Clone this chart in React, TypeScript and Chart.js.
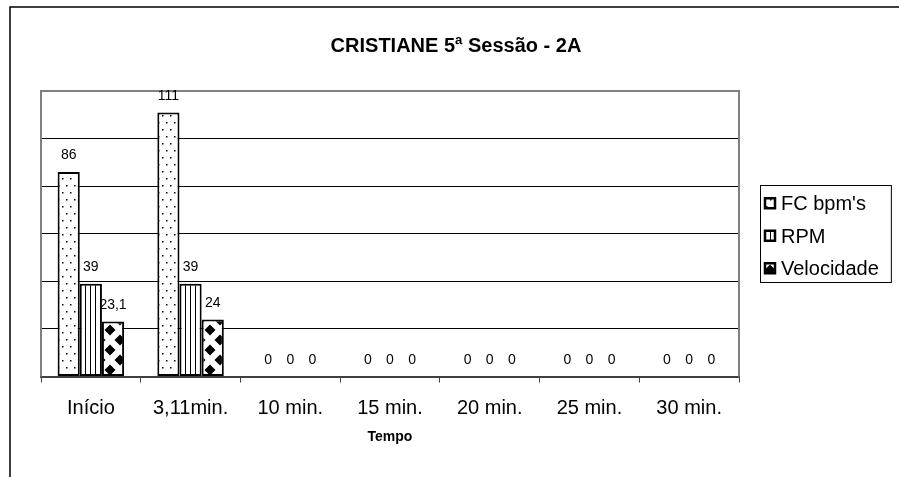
import React, { useEffect, useRef } from 'react';
import { Chart, registerables } from 'chart.js';

Chart.register(...registerables);

const categories = ['Início', '3,11min.', '10 min.', '15 min.', '20 min.', '25 min.', '30 min.'];
const fcValues = [86, 111, 0, 0, 0, 0, 0];
const rpmValues = [39, 39, 0, 0, 0, 0, 0];
const velValues = [23.1, 24, 0, 0, 0, 0, 0];
const seriesLabels = ["FC bpm's", 'RPM', 'Velocidade'];
const yMin = 0;
const yMax = 120;
const yStep = 20;
const titleText = 'CRISTIANE 5ª Sessão - 2A';
const axisTitleText = 'Tempo';

const FONT = 'Arial, "Liberation Sans", sans-serif';

function makePattern(kind: string): CanvasPattern | string {
  const c = document.createElement('canvas');
  if (kind === 'dots') {
    c.width = 8; c.height = 14;
  } else if (kind === 'stripes') {
    c.width = 5; c.height = 5;
  } else {
    c.width = 20; c.height = 20;
  }
  const g = c.getContext('2d');
  if (!g) return '#fff';
  g.fillStyle = '#fff';
  g.fillRect(0, 0, c.width, c.height);
  g.fillStyle = '#000';
  if (kind === 'dots') {
    g.fillRect(2, 3, 1.5, 1.5);
    g.fillRect(6, 10, 1.5, 1.5);
  } else if (kind === 'stripes') {
    g.fillRect(0, 0, 1, 5);
  } else {
    const diamond = (cx: number, cy: number, r: number) => {
      g.beginPath();
      g.moveTo(cx, cy - r);
      g.lineTo(cx + r, cy);
      g.lineTo(cx, cy + r);
      g.lineTo(cx - r, cy);
      g.closePath();
      g.fill();
    };
    const r = 5.5;
    diamond(10, 10, r);
    diamond(0, 0, r);
    diamond(20, 0, r);
    diamond(0, 20, r);
    diamond(20, 20, r);
  }
  return g.createPattern(c, 'repeat') || '#fff';
}

const outerFrame = {
  id: 'outerFrame',
  beforeDraw(chart: any) {
    const ctx = chart.ctx;
    ctx.save();
    ctx.fillStyle = '#fff';
    ctx.fillRect(0, 0, chart.width, chart.height);
    ctx.strokeStyle = '#000';
    ctx.lineWidth = 1.5;
    ctx.beginPath();
    ctx.moveTo(chart.width, 7);
    ctx.lineTo(10, 7);
    ctx.lineTo(10, chart.height);
    ctx.stroke();
    // chart title, centred over the whole frame
    ctx.fillStyle = '#000';
    ctx.font = 'bold 20px ' + FONT;
    ctx.textAlign = 'center';
    ctx.textBaseline = 'alphabetic';
    ctx.fillText(titleText, 456, 52.2);
    ctx.restore();
  },
};

const plotBox = {
  id: 'plotBox',
  beforeDatasetsDraw(chart: any) {
    const { ctx, chartArea } = chart;
    ctx.save();
    ctx.strokeStyle = '#808080';
    ctx.lineWidth = 2;
    ctx.beginPath();
    ctx.moveTo(chartArea.left, chartArea.bottom);
    ctx.lineTo(chartArea.left, chartArea.top);
    ctx.lineTo(chartArea.right, chartArea.top);
    ctx.lineTo(chartArea.right, chartArea.bottom);
    ctx.stroke();
    ctx.restore();
  },
};

const valueLabels = {
  id: 'valueLabels',
  afterDatasetsDraw(chart: any) {
    const ctx = chart.ctx;
    ctx.save();
    ctx.font = '14px ' + FONT;
    ctx.fillStyle = '#000';
    ctx.textAlign = 'center';
    ctx.textBaseline = 'alphabetic';
    chart.data.datasets.forEach((ds: any, i: number) => {
      const meta = chart.getDatasetMeta(i);
      meta.data.forEach((bar: any, j: number) => {
        const v = ds.data[j];
        ctx.fillText(String(v).replace('.', ','), bar.x, bar.y - 12.5);
      });
    });
    ctx.restore();
  },
};

const boxLegend = {
  id: 'boxLegend',
  afterDraw(chart: any) {
    const { ctx, chartArea } = chart;
    ctx.save();
    ctx.font = '20px ' + FONT;
    const widths = chart.data.datasets.map((d: any) => ctx.measureText(d.label).width);
    const boxW = Math.max(...widths) + 33;
    const boxH = 97;
    const left = chartArea.right + 21;
    const top = (chartArea.top + chartArea.bottom) / 2 - boxH / 2;
    ctx.fillStyle = '#fff';
    ctx.fillRect(left, top, boxW, boxH);
    ctx.strokeStyle = '#000';
    ctx.lineWidth = 1;
    ctx.strokeRect(Math.round(left) + 0.5, Math.round(top) + 0.5, boxW, boxH);
    const spacing = 32.5;
    chart.data.datasets.forEach((ds: any, i: number) => {
      const cy = top + boxH / 2 + 2 + (i - 1) * spacing;
      ctx.fillStyle = ds.backgroundColor;
      ctx.fillRect(left + 5, cy - 5, 10, 10);
      ctx.strokeStyle = '#000';
      ctx.lineWidth = 2.5;
      ctx.strokeRect(left + 5, cy - 5, 10, 10);
      ctx.fillStyle = '#000';
      ctx.textAlign = 'left';
      ctx.textBaseline = 'alphabetic';
      ctx.fillText(ds.label, left + 21, cy + 7.2);
    });
    ctx.restore();
  },
};

export default function App() {
  const ref = useRef<HTMLCanvasElement | null>(null);

  useEffect(() => {
    document.body.style.margin = '0';
    const canvas = ref.current;
    if (!canvas) return;
    const fills = [makePattern('dots'), makePattern('stripes'), makePattern('diamonds')];
    const series = [fcValues, rpmValues, velValues];
    const chart = new Chart(canvas, {
      type: 'bar',
      data: {
        labels: categories,
        datasets: series.map((vals, i) => ({
          label: seriesLabels[i],
          data: vals,
          backgroundColor: fills[i] as any,
          borderColor: '#000',
          borderWidth: 2,
          borderSkipped: false as any,
          categoryPercentage: 2 / 3,
          barPercentage: 1,
        })),
      },
      options: {
        responsive: false,
        animation: false,
        layout: { padding: { left: 41, right: 160, top: 91, bottom: 31.6 } },
        plugins: {
          legend: { display: false },
          tooltip: { enabled: false },
          title: { display: false },
        },
        scales: {
          x: {
            grid: {
              display: true,
              drawOnChartArea: false,
              drawTicks: true,
              tickLength: 6,
              color: '#404040',
              lineWidth: 1,
              offset: true,
            },
            border: { display: true, color: '#404040', width: 2 },
            ticks: {
              color: '#000',
              font: { family: FONT, size: 20 },
              padding: 13.5,
              maxRotation: 0,
              autoSkip: false,
            },
            title: {
              display: true,
              text: axisTitleText,
              color: '#000',
              font: { family: FONT, size: 14, weight: 'bold' },
              padding: { top: -4.9, bottom: 0 },
            },
          },
          y: {
            min: yMin,
            max: yMax,
            ticks: { display: false, stepSize: yStep },
            grid: { color: '#000', lineWidth: 1, drawTicks: false },
            border: { display: false },
          },
        },
      },
      plugins: [outerFrame, plotBox, valueLabels, boxLegend],
    });
    return () => chart.destroy();
  }, []);

  return (
    <canvas
      ref={ref}
      width={899}
      height={477}
      style={{ display: 'block', width: '899px', height: '477px' }}
    />
  );
}
